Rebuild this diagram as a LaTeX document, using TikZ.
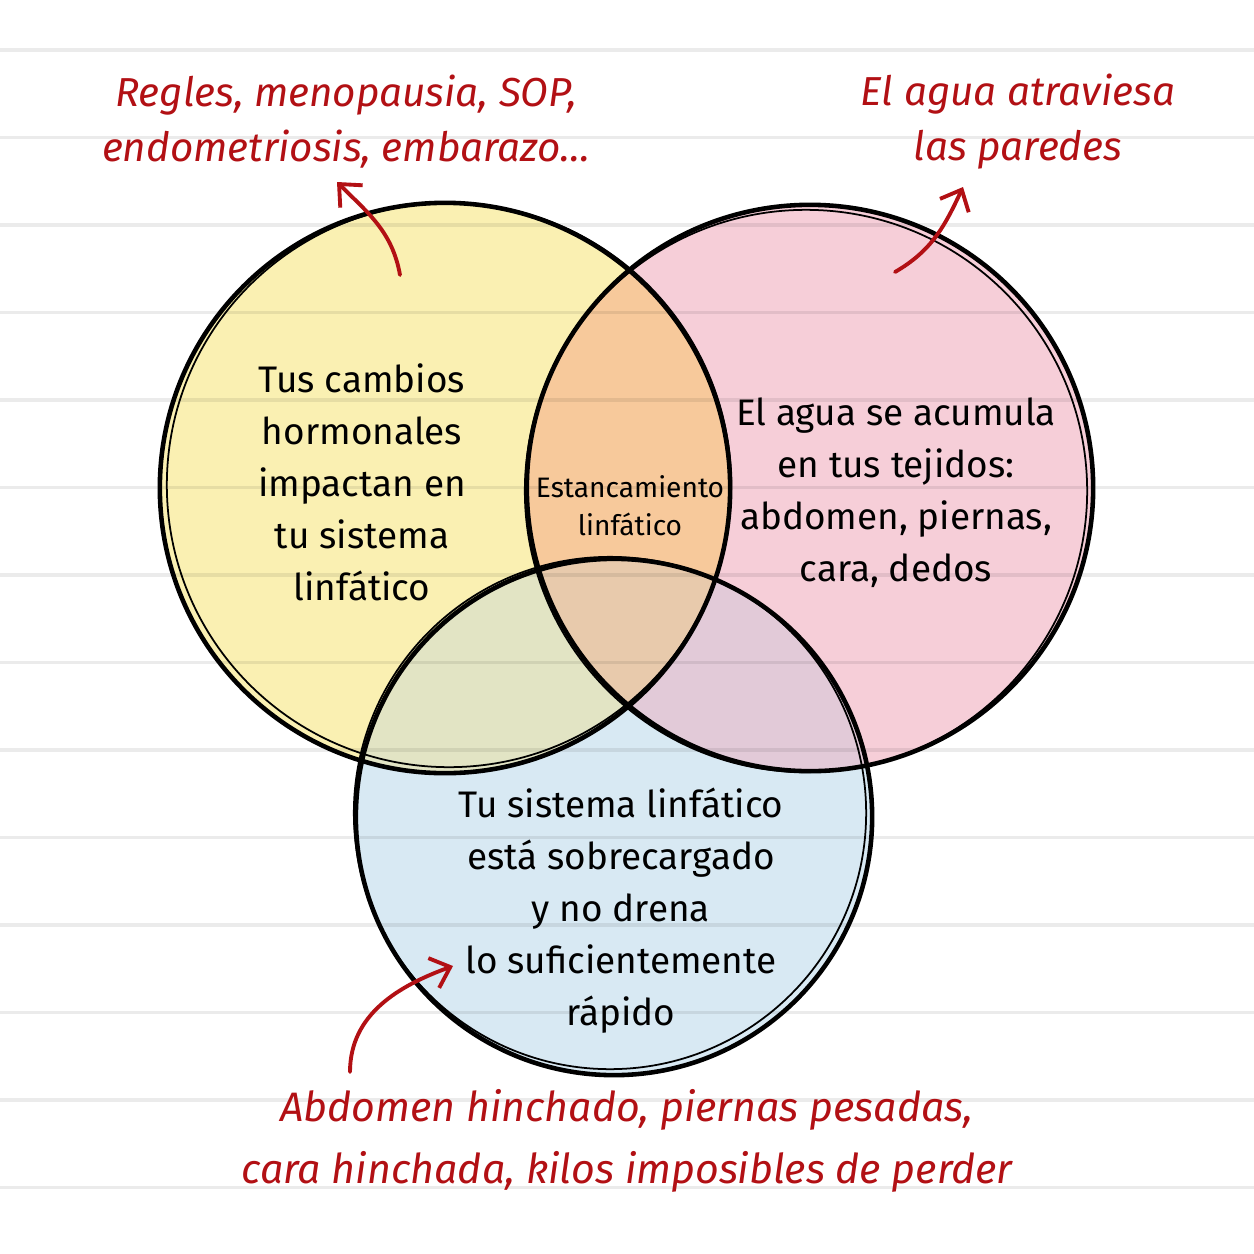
\documentclass[tikz,border=0pt]{standalone}
\usepackage{fontspec}
\setmainfont{Fira Sans}
\usepackage{tikz}
\usetikzlibrary{arrows.meta,positioning}

\definecolor{yellowfill}{RGB}{250,240,178}
\definecolor{pinkfill}{RGB}{246,206,216}
\definecolor{orangefill}{RGB}{247,201,155}
\definecolor{bluefill}{RGB}{216,233,243}
\definecolor{ybfill}{RGB}{226,228,196}
\definecolor{pbfill}{RGB}{226,202,216}
\definecolor{ypbfill}{RGB}{232,202,172}
\definecolor{notered}{RGB}{178,16,20}

\begin{document}
\begin{tikzpicture}[x=0.01cm,y=-0.01cm,>={Straight Barb[length=5pt,width=9pt]},
    sketch/.style={draw=black,line width=1.3pt},
    sketch thin/.style={draw=black,line width=0.5pt},
    ruled/.style={draw=black,opacity=0.08,line width=0.9pt},
    set text/.style={align=center,font=\fontsize{10.5}{14.8}\selectfont},
    note/.style={align=center,text=notered,font=\itshape\fontsize{11.5}{15.6}\selectfont},
    pointer/.style={->,draw=notered,line width=1.1pt,line cap=round}]

  \useasboundingbox (0,0) rectangle (1254,1254);
  \fill[white] (0,0) rectangle (1254,1254);

  % coloured sets
  \fill[yellowfill] (445,488) circle (2.85cm);
  \fill[pinkfill] (810,488) circle (2.83cm);
  \begin{scope}
    \clip (445,488) circle (2.85cm);
    \fill[orangefill] (810,488) circle (2.83cm);
  \end{scope}
  \fill[bluefill] (614,817) circle (2.58cm);
  \begin{scope}
    \clip (614,817) circle (2.58cm);
    \fill[ybfill] (445,488) circle (2.85cm);
    \fill[pbfill] (810,488) circle (2.83cm);
    \clip (445,488) circle (2.85cm);
    \fill[ypbfill] (810,488) circle (2.83cm);
  \end{scope}

  % notebook lines
  \foreach \y in {50,137.5,...,1190}
    \draw[ruled] (0,\y) -- (1254,\y);

  % outlines
  \draw[sketch] (445,488) circle (2.85cm);
  \draw[sketch thin] (449,485) circle (2.82cm);
  \draw[sketch] (810,488) circle (2.83cm);
  \draw[sketch thin] (806,491) circle (2.81cm);
  \draw[sketch] (614,817) circle (2.58cm);
  \draw[sketch thin] (610,813) circle (2.56cm);

  % set labels
  \node[set text] (hormonal) at (362,482) {Tus cambios\\hormonales\\impactan en\\tu sistema\\linfático};
  \node[set text] (water) at (896,493) {El agua se acumula\\en tus tejidos:\\abdomen, piernas,\\cara, dedos};
  \node[set text] (lymph) at (621,911) {Tu sistema linfático\\está sobrecargado\\y no drena\\lo suficientemente\\rápido};
  \node[align=center,font=\fontsize{8}{10.8}\selectfont] (core) at (630,506) {Estancamiento\\linfático};

  % notes
  \node[note] (causes) at (346,122) {Regles, menopausia, SOP,\\endometriosis, embarazo...};
  \node[note] (walls) at (1018,122) {El agua atraviesa\\las paredes};
  \node[note,font=\itshape\fontsize{11.7}{17.6}\selectfont] (signs) at (627,1141) {Abdomen hinchado, piernas pesadas,\\cara hinchada, kilos imposibles de perder};

  \coordinate (causes-tail) at (400,275);
  \coordinate (causes-tip) at (337,182);
  \coordinate (walls-tail) at (895,272);
  \coordinate (walls-tip) at (963,187);
  \coordinate (signs-tail) at (350,1072);
  \coordinate (signs-tip) at (453,966);

  \draw[pointer] (causes-tail) to[out=100,in=-45] (causes-tip);
  \draw[pointer] (walls-tail) to[out=30,in=-115] (walls-tip);
  \draw[pointer] (signs-tail) to[out=90,in=200] (signs-tip);
\end{tikzpicture}
\end{document}
